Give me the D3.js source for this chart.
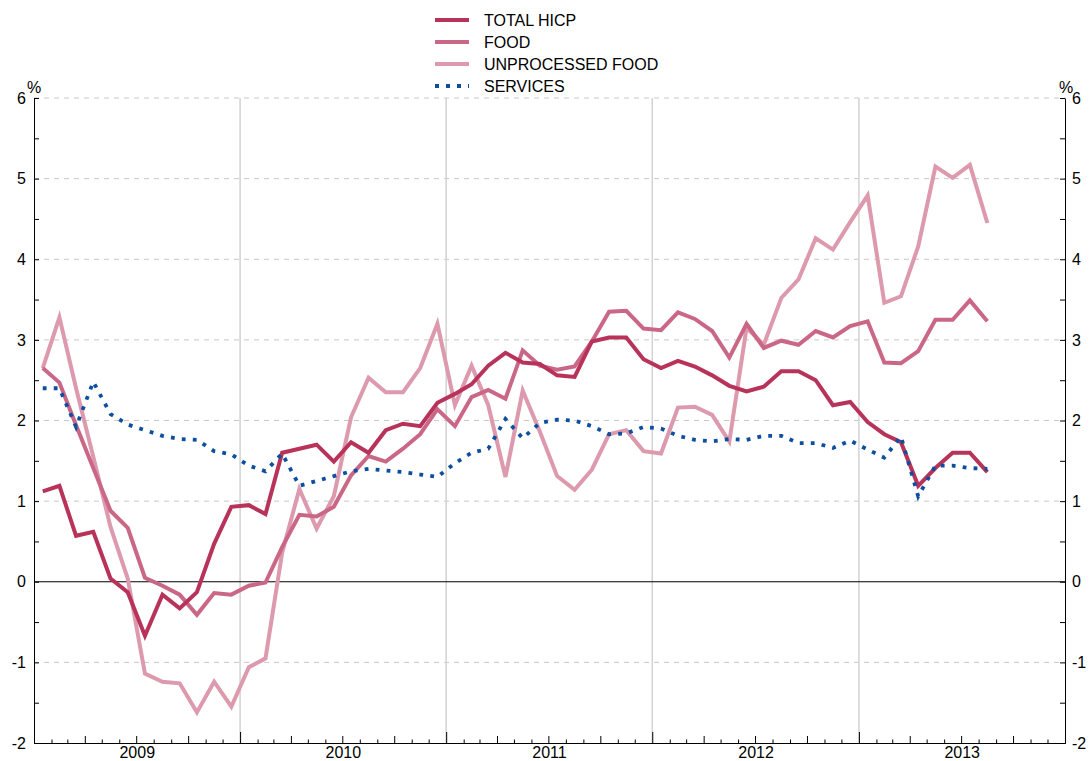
<!DOCTYPE html>
<html>
<head>
<meta charset="utf-8">
<script src="https://cdn.jsdelivr.net/npm/d3@7"></script>
<style>
  body { margin: 0; background: #fff; }
  text { font-family: "Liberation Sans", Arial, sans-serif; }
</style>
</head>
<body>
<div id="rootDiv"></div>
<script>
// monthly annual rates of change, Jan 2009 .. Aug 2013
const startMonth = new Date(2009, 0, 1)
const totalHicp = [
    1.12, 1.19, 0.57, 0.62, 0.04, -0.13, -0.67, -0.16, -0.33, -0.13, 0.47, 0.93,
    0.95, 0.84, 1.60, 1.65, 1.70, 1.49, 1.73, 1.60, 1.88, 1.96, 1.93, 2.22,
    2.33, 2.45, 2.68, 2.84, 2.72, 2.70, 2.56, 2.54, 2.98, 3.03, 3.03, 2.76,
    2.65, 2.74, 2.67, 2.56, 2.43, 2.36, 2.42, 2.61, 2.61, 2.50, 2.19, 2.23,
    1.98, 1.83, 1.73, 1.19, 1.41, 1.60, 1.60, 1.36
]
const food = [
    2.65, 2.47, 1.94, 1.41, 0.88, 0.67, 0.05, -0.05, -0.16, -0.41, -0.14, -0.16,
    -0.05, -0.01, 0.43, 0.83, 0.81, 0.93, 1.32, 1.56, 1.49, 1.65, 1.83, 2.14,
    1.93, 2.29, 2.38, 2.27, 2.87, 2.68, 2.63, 2.67, 2.98, 3.35, 3.36, 3.14,
    3.12, 3.34, 3.26, 3.11, 2.78, 3.20, 2.90, 2.99, 2.94, 3.11, 3.03, 3.17,
    3.23, 2.72, 2.71, 2.86, 3.25, 3.25, 3.49, 3.23
]
const unprocessedFood = [
    2.65, 3.28, 2.40, 1.55, 0.68, 0.04, -1.14, -1.24, -1.26, -1.62, -1.24, -1.55,
    -1.06, -0.95, 0.36, 1.15, 0.66, 1.06, 2.04, 2.53, 2.35, 2.35, 2.65, 3.20,
    2.19, 2.68, 2.19, 1.30, 2.37, 1.86, 1.31, 1.14, 1.39, 1.83, 1.88, 1.62,
    1.59, 2.16, 2.17, 2.07, 1.74, 3.15, 2.94, 3.52, 3.75, 4.26, 4.12, 4.46,
    4.79, 3.46, 3.54, 4.16, 5.15, 5.01, 5.17, 4.45
]
const services = [
    2.40, 2.40, 1.92, 2.48, 2.08, 1.95, 1.88, 1.81, 1.77, 1.76, 1.62, 1.58,
    1.44, 1.37, 1.59, 1.19, 1.25, 1.31, 1.37, 1.40, 1.38, 1.36, 1.33, 1.30,
    1.47, 1.60, 1.65, 2.02, 1.78, 1.97, 2.01, 2.00, 1.93, 1.83, 1.84, 1.92,
    1.90, 1.81, 1.76, 1.74, 1.77, 1.76, 1.81, 1.81, 1.72, 1.72, 1.66, 1.75,
    1.64, 1.54, 1.80, 1.06, 1.44, 1.44, 1.41, 1.40
]
const seriesNames = ["TOTAL HICP", "FOOD", "UNPROCESSED FOOD", "SERVICES"]
const years = [2009, 2010, 2011, 2012, 2013]
const yTicks = [-2, -1, 0, 1, 2, 3, 4, 5, 6]

const colors = ["#b8335a", "#ca6787", "#dd99ad", "#0d4f9f"]

// Dimensions
const W = 1089, H = 761
const plot = { left: 34, right: 1065, top: 98, bottom: 743 }

const xStart = new Date(years[0], 0, 1)
const xEnd = new Date(years[years.length - 1] + 1, 0, 1)
const x = d3.scaleTime().domain([xStart, xEnd]).range([plot.left, plot.right])
const y = d3.scaleLinear().domain([yTicks[0], yTicks[yTicks.length - 1]]).range([plot.bottom, plot.top])

const months = d3.timeMonth.range(startMonth, d3.timeMonth.offset(startMonth, totalHicp.length))
const midMonth = m => (x(m) + x(d3.timeMonth.offset(m, 1))) / 2

const svg = d3.select("#rootDiv")
    .append("svg")
    .attr("width", W)
    .attr("height", H)

// horizontal grid
svg.append("g")
    .selectAll("line")
    .data(yTicks.filter(d => d !== 0 && d !== yTicks[0]))
    .enter()
    .append("line")
    .attr("x1", plot.left)
    .attr("x2", plot.right)
    .attr("y1", d => y(d))
    .attr("y2", d => y(d))
    .attr("stroke", "#c8c8c8")
    .attr("stroke-dasharray", "5,5")

// year separators
svg.append("g")
    .selectAll("line")
    .data(years.slice(1))
    .enter()
    .append("line")
    .attr("x1", d => x(new Date(d, 0, 1)))
    .attr("x2", d => x(new Date(d, 0, 1)))
    .attr("y1", plot.top)
    .attr("y2", plot.bottom)
    .attr("stroke", "#d2d2d2")
    .attr("stroke-width", 1.5)

// zero line
svg.append("line")
    .attr("x1", plot.left)
    .attr("x2", plot.right)
    .attr("y1", y(0))
    .attr("y2", y(0))
    .attr("stroke", "#000")

// axes
const halfTicks = d3.range(yTicks[0], yTicks[yTicks.length - 1] + 0.01, 0.5)
const yFmt = d => Number.isInteger(d) ? d : ""

const leftAxis = svg.append("g")
    .attr("transform", `translate(${plot.left},0)`)
    .call(d3.axisLeft(y).tickValues(halfTicks).tickFormat(yFmt).tickSizeInner(-5).tickSizeOuter(0).tickPadding(8))
const rightAxis = svg.append("g")
    .attr("transform", `translate(${plot.right},0)`)
    .call(d3.axisRight(y).tickValues(halfTicks).tickFormat(yFmt).tickSizeInner(-5).tickSizeOuter(0).tickPadding(7))

const monthTicks = d3.timeMonth.range(xStart, xEnd)
const bottom = svg.append("g").attr("transform", `translate(0,${plot.bottom})`)
bottom.append("g")
    .call(d3.axisBottom(x).tickValues(monthTicks.filter(m => m.getMonth() % 3 !== 0)).tickFormat("").tickSizeInner(-3.5).tickSizeOuter(0))
bottom.append("g")
    .call(d3.axisBottom(x).tickValues(monthTicks.filter(m => m.getMonth() % 3 === 0 && m.getMonth() !== 0)).tickFormat("").tickSizeInner(-7).tickSizeOuter(0))
bottom.append("g")
    .call(d3.axisBottom(x).tickValues(years.slice(1).map(d => new Date(d, 0, 1))).tickFormat("").tickSizeInner(-11).tickSizeOuter(0))
const yearAxis = bottom.append("g")
    .call(d3.axisBottom(x).tickValues(years.map(d => new Date(d, 6, 2))).tickFormat(d3.timeFormat("%Y")).tickSize(0).tickPadding(4))
yearAxis.select(".domain").remove()

for (const axis of [leftAxis, rightAxis, bottom]) {
    axis.selectAll("line").attr("stroke", "#000")
    axis.selectAll("path").attr("stroke", "#000")
    axis.selectAll("text")
        .attr("fill", "#000")
        .style("font-size", "16px")
        .style("font-family", "'Liberation Sans', Arial, sans-serif")
}

// % units
svg.selectAll("text.unit")
    .data([plot.left, plot.right + 1])
    .enter()
    .append("text")
    .attr("class", "unit")
    .attr("x", d => d)
    .attr("y", 93)
    .attr("text-anchor", "middle")
    .style("font-size", "16px")
    .text("%")

// lines
const series = [totalHicp, food, unprocessedFood, services]
const line = d3.line()
    .x((d, i) => midMonth(months[i]))
    .y(d => y(d))

const drawOrder = [2, 1, 0, 3]
svg.append("g")
    .selectAll("path")
    .data(drawOrder)
    .enter()
    .append("path")
    .attr("d", k => line(series[k]))
    .attr("fill", "none")
    .attr("stroke", k => colors[k])
    .attr("stroke-width", k => k === 3 ? 3.8 : 4)
    .attr("stroke-dasharray", k => k === 3 ? "3.8,7.2" : null)
    .attr("stroke-linejoin", "miter")

// legend
const legend = svg.selectAll(".legend")
    .data(seriesNames)
    .enter()
    .append("g")
    .attr("class", "legend")
    .attr("transform", (d, i) => `translate(435, ${20 + i * 22})`)

legend.append("line")
    .attr("x1", 0)
    .attr("x2", 34)
    .attr("stroke", (d, i) => colors[i])
    .attr("stroke-width", 4)
    .attr("stroke-dasharray", (d, i) => i === 3 ? "4,7" : null)

legend.append("text")
    .attr("x", 49)
    .attr("dy", "0.36em")
    .style("font-size", "16px")
    .text(d => d)
</script>
</body>
</html>
